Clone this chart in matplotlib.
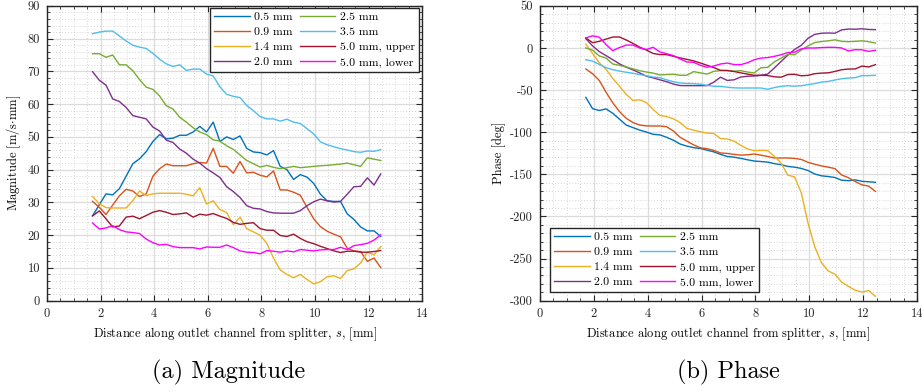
import matplotlib
matplotlib.use("Agg")
import matplotlib.pyplot as plt
from matplotlib.ticker import MultipleLocator

plt.rcParams["font.family"] = ["cmr10", "DejaVu Serif"]
plt.rcParams["mathtext.fontset"] = "cm"
plt.rcParams["axes.unicode_minus"] = False
plt.rcParams["axes.formatter.use_mathtext"] = False

# sample positions along the outlet channel [mm]
S = [1.70, 1.95, 2.20, 2.45, 2.70, 2.95, 3.20, 3.45, 3.70, 3.95, 4.20,
     4.45, 4.70, 4.95, 5.20, 5.45, 5.70, 5.95, 6.20, 6.45, 6.70, 6.95,
     7.20, 7.45, 7.70, 7.95, 8.20, 8.45, 8.70, 8.95, 9.20, 9.45, 9.70,
     9.95, 10.20, 10.45, 10.70, 10.95, 11.20, 11.45, 11.70, 11.95, 12.20, 12.45]

LABELS = ["0.5 mm", "0.9 mm", "1.4 mm", "2.0 mm",
          "2.5 mm", "3.5 mm", "5.0 mm, upper", "5.0 mm, lower"]
COLORS = ["#0072BD", "#D95319", "#EDB120", "#7E2F8E",
          "#77AC30", "#4DBEEE", "#A2142F", "#FF00FF"]

# magnitude [m/s.mm]
mag_05 = [25.9, 29.3, 32.6, 32.3, 34.2, 38.0, 41.8, 43.3, 45.5, 48.6, 50.7,
          49.4, 49.6, 50.5, 50.5, 51.5, 53.2, 51.5, 54.5, 48.6, 50.0, 49.2,
          50.3, 46.5, 45.4, 45.2, 44.5, 45.8, 41.0, 40.0, 37.0, 38.5, 37.7,
          35.8, 32.5, 30.5, 30.3, 30.3, 26.5, 24.8, 22.5, 21.3, 21.3, 19.6]
mag_09 = [30.3, 28.5, 26.3, 29.2, 32.0, 34.0, 33.5, 31.8, 32.6, 38.0, 40.3,
          41.7, 41.2, 41.2, 41.2, 41.8, 42.2, 42.0, 46.5, 41.0, 41.0, 38.9,
          42.5, 39.0, 39.2, 38.3, 37.8, 39.6, 33.8, 33.8, 33.1, 32.2, 28.5,
          25.0, 22.6, 21.2, 20.3, 19.5, 16.0, 15.2, 15.0, 12.0, 13.0, 10.1]
mag_14 = [31.8, 29.6, 28.4, 28.3, 28.3, 28.3, 30.5, 33.5, 32.1, 32.6, 32.8,
          32.8, 32.8, 32.8, 32.5, 32.0, 34.5, 29.5, 30.5, 27.8, 26.9, 23.2,
          25.5, 22.0, 21.0, 20.0, 17.5, 13.0, 9.4, 8.0, 7.0, 8.0, 6.5,
          5.1, 5.8, 7.3, 7.6, 6.8, 9.2, 9.7, 11.5, 14.8, 14.0, 16.5]
mag_20 = [69.9, 67.3, 65.8, 61.6, 60.8, 59.0, 56.5, 56.0, 55.5, 53.0, 51.8,
          49.0, 48.3, 46.3, 45.0, 43.2, 42.0, 40.3, 39.0, 37.6, 34.8, 33.3,
          31.5, 29.0, 28.2, 28.0, 27.2, 26.8, 26.7, 26.7, 26.7, 27.5, 29.0,
          30.2, 31.0, 30.5, 30.1, 30.3, 32.5, 34.8, 34.9, 37.5, 35.3, 38.7]
mag_25 = [75.4, 75.4, 74.3, 75.0, 72.0, 72.0, 70.2, 67.5, 65.2, 64.5, 62.5,
          59.5, 58.5, 56.0, 54.5, 52.8, 51.5, 50.7, 49.1, 48.7, 47.3, 46.2,
          44.5, 42.8, 41.8, 40.8, 41.3, 40.7, 40.3, 40.6, 41.0, 40.6, 40.8,
          41.0, 41.2, 41.3, 41.5, 41.7, 42.0, 41.5, 41.0, 43.6, 43.2, 42.8]
mag_35 = [81.5, 82.0, 82.3, 82.3, 80.8, 79.3, 78.0, 77.4, 77.0, 75.5, 73.7,
          72.3, 71.5, 72.0, 70.3, 70.7, 70.7, 69.2, 68.6, 65.3, 63.0, 62.4,
          62.0, 59.6, 58.0, 56.2, 55.5, 55.5, 54.8, 55.4, 54.5, 54.1, 52.5,
          50.9, 48.5, 47.6, 47.0, 46.4, 46.0, 45.5, 45.3, 45.7, 45.6, 46.1]
mag_50u = [25.9, 27.4, 25.0, 22.5, 22.8, 25.5, 25.8, 25.0, 26.0, 27.0, 27.5,
           27.0, 26.3, 26.5, 26.8, 25.5, 26.4, 26.1, 26.6, 25.8, 25.1, 23.9,
           23.3, 23.6, 23.8, 22.0, 21.5, 21.5, 19.9, 19.6, 20.3, 19.0, 18.0,
           17.4, 16.6, 15.9, 15.2, 14.7, 15.1, 15.1, 14.8, 14.8, 15.0, 15.3]
mag_50l = [23.7, 21.9, 22.2, 22.9, 21.7, 21.0, 20.8, 20.5, 18.8, 17.7, 17.0,
           17.2, 16.5, 16.2, 16.2, 16.2, 15.8, 16.4, 16.3, 16.3, 17.0, 16.2,
           15.2, 14.8, 14.7, 14.3, 15.3, 15.1, 14.8, 15.2, 14.9, 15.6, 15.4,
           15.2, 15.5, 15.6, 15.6, 16.3, 15.6, 16.8, 17.1, 17.5, 18.5, 20.1]

# phase [deg]
ph_05 = [-58.6, -72.0, -74.2, -72.3, -77.5, -84.5, -91.5, -94.5, -97.5, -99.8, -102.5,
         -103.2, -106.0, -109.5, -114.0, -116.5, -118.3, -119.3, -121.3, -123.3, -126.3, -128.8,
         -129.6, -131.0, -132.7, -134.2, -134.8, -135.5, -137.3, -138.5, -140.6, -141.5, -143.0,
         -145.5, -149.6, -151.8, -152.6, -153.8, -157.0, -157.5, -156.6, -158.3, -158.8, -159.5]
ph_09 = [-24.9, -30.5, -38.5, -52.5, -65.0, -75.5, -83.5, -88.5, -91.5, -92.5, -92.6,
         -92.6, -93.5, -98.5, -106.0, -110.5, -115.0, -118.5, -119.5, -121.6, -124.6, -125.2,
         -126.3, -127.2, -126.8, -125.9, -127.2, -128.8, -130.6, -130.6, -130.6, -131.1, -132.3,
         -135.8, -138.0, -140.0, -141.5, -143.2, -150.8, -154.0, -158.5, -162.5, -164.0, -170.2]
ph_14 = [4.7, -6.5, -17.5, -25.3, -36.0, -45.5, -55.0, -62.3, -61.5, -64.8, -73.0,
         -80.0, -81.5, -84.0, -88.5, -95.5, -97.5, -99.5, -101.0, -101.5, -107.6, -108.0,
         -110.6, -115.5, -119.8, -122.0, -121.5, -121.8, -128.6, -136.5, -151.0, -153.0, -172.0,
         -208.0, -236.0, -255.0, -264.8, -268.5, -278.0, -283.0, -287.6, -289.8, -288.0, -294.8]
ph_20 = [11.1, 2.5, -4.3, -9.0, -13.9, -18.8, -22.8, -26.0, -29.6, -33.5, -35.5,
         -37.8, -40.0, -42.8, -44.6, -44.7, -44.7, -44.7, -44.7, -40.6, -34.7, -38.5,
         -37.8, -34.5, -33.6, -33.3, -32.5, -31.0, -23.7, -16.0, -8.5, -1.8, 3.2,
         11.5, 16.2, 17.5, 17.8, 17.5, 21.5, 22.5, 22.3, 22.8, 22.0, 21.8]
ph_25 = [0.0, -2.5, -9.5, -11.9, -19.0, -20.6, -22.5, -24.8, -27.0, -28.5, -29.8,
         -32.0, -31.5, -31.2, -32.4, -32.4, -28.0, -29.5, -31.0, -27.7, -26.9, -26.5,
         -27.5, -26.9, -28.5, -29.6, -23.5, -23.0, -16.5, -12.0, -7.5, -8.0, -2.5,
         2.5, 6.5, 7.7, 8.5, 9.7, 7.9, 7.5, 7.9, 8.5, 7.5, 5.9]
ph_35 = [-13.9, -15.6, -19.5, -23.3, -25.7, -27.5, -28.8, -30.0, -31.6, -33.0, -34.5,
         -35.2, -37.8, -40.0, -41.5, -42.2, -42.3, -43.0, -44.3, -45.5, -45.5, -46.5,
         -47.3, -47.5, -47.5, -47.5, -47.5, -49.0, -47.0, -45.5, -44.8, -45.3, -44.8,
         -43.5, -42.3, -40.5, -39.7, -38.0, -36.5, -35.7, -35.2, -32.8, -32.8, -32.4]
ph_50u = [11.9, 6.3, 7.9, 10.5, 13.0, 13.1, 9.5, 5.5, 1.0, -2.5, -6.5,
          -7.8, -7.9, -9.8, -11.8, -13.5, -15.3, -17.8, -20.5, -23.3, -26.5, -26.9,
          -27.9, -29.5, -31.0, -32.4, -32.4, -32.7, -34.2, -34.7, -31.5, -31.2, -33.0,
          -32.5, -30.5, -29.8, -29.5, -27.8, -25.8, -25.0, -24.9, -21.5, -22.5, -19.8]
ph_50l = [11.9, 14.5, 12.8, 4.0, -3.2, 0.5, 3.5, 3.5, 0.0, -1.8, 0.8,
          -4.7, -6.8, -9.0, -13.0, -16.6, -17.0, -20.5, -22.8, -21.5, -19.0, -17.9,
          -19.6, -19.8, -17.5, -14.0, -12.0, -11.4, -9.9, -8.0, -5.4, -5.0, -1.0,
          0.0, 0.0, 0.5, 0.8, 0.8, 0.0, -3.5, -2.0, -2.2, -4.0, -2.8]

MAG = [mag_05, mag_09, mag_14, mag_20, mag_25, mag_35, mag_50u, mag_50l]
PHASE = [ph_05, ph_09, ph_14, ph_20, ph_25, ph_35, ph_50u, ph_50l]

XLABEL = "Distance along outlet channel from splitter, $s$, [mm]"


def style_axes(ax, ymin, ymax, ymajor, yminor):
    ax.set_xlim(0, 14)
    ax.set_ylim(ymin, ymax)
    ax.xaxis.set_major_locator(MultipleLocator(2))
    ax.xaxis.set_minor_locator(MultipleLocator(0.5))
    ax.yaxis.set_major_locator(MultipleLocator(ymajor))
    ax.yaxis.set_minor_locator(MultipleLocator(yminor))
    ax.grid(True, which="major", color="#dcdcdc", linewidth=0.9, linestyle="-")
    ax.grid(True, which="minor", color="#c8c8c8", linewidth=0.6, linestyle=(0, (1, 2.5)))
    ax.set_axisbelow(True)
    ax.tick_params(which="both", direction="in", top=True, right=True,
                   labelsize=9, colors="#262626", pad=5)
    ax.tick_params(which="major", length=4, width=0.8)
    ax.tick_params(which="minor", length=2, width=0.6)
    for sp in ax.spines.values():
        sp.set_linewidth(1.0)
        sp.set_color("#262626")
    ax.set_xlabel(XLABEL, fontsize=9, labelpad=4)


fig = plt.figure(figsize=(9.22, 3.92), dpi=100)
ax1 = fig.add_axes([0.051, 0.233, 0.407, 0.752])
ax2 = fig.add_axes([0.5857, 0.233, 0.409, 0.752])

for ys, lab, col in zip(MAG, LABELS, COLORS):
    ax1.plot(S, ys, color=col, linewidth=1.0, label=lab)
for ys, lab, col in zip(PHASE, LABELS, COLORS):
    ax2.plot(S, ys, color=col, linewidth=1.0, label=lab)

style_axes(ax1, 0, 90, 10, 2)
style_axes(ax2, -300, 50, 50, 10)
ax1.set_ylabel("Magnitude [m/s$\\cdot$mm]", fontsize=9, labelpad=3)
ax2.set_ylabel("Phase [deg]", fontsize=9, labelpad=3)

leg_kw = dict(ncol=2, fontsize=8.5, frameon=True, fancybox=False, framealpha=1,
              edgecolor="#262626", handlelength=3.0, handletextpad=0.4,
              columnspacing=0.6, labelspacing=0.4, borderpad=0.35,
              borderaxespad=0.0)
l1 = ax1.legend(loc="upper right", bbox_to_anchor=(0.992, 0.993), **leg_kw)
l2 = ax2.legend(loc="lower left", bbox_to_anchor=(0.027, 0.03), **leg_kw)
for lg in (l1, l2):
    lg.get_frame().set_linewidth(1.0)

fig.text(0.248, 0.05, "(a) Magnitude", ha="center", va="center", fontsize=17.5)
fig.text(0.79, 0.05, "(b) Phase", ha="center", va="center", fontsize=17.5)

fig.savefig("out.png", dpi=100, facecolor="white")
